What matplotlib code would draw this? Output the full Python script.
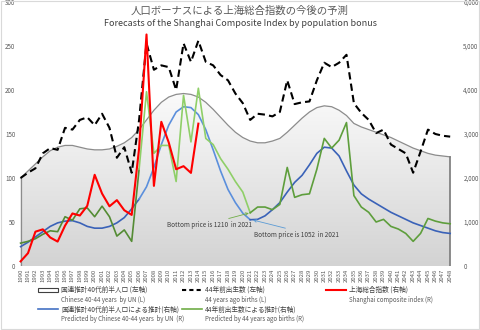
import numpy as np
import matplotlib
matplotlib.use("Agg")
from matplotlib import pyplot as plt
from matplotlib.colors import LinearSegmentedColormap
from matplotlib.patches import Patch, Rectangle
from matplotlib.lines import Line2D
from matplotlib.ticker import FuncFormatter

plt.rcParams['font.family'] = ['Noto Sans CJK JP', 'DejaVu Sans']

years = np.arange(1990, 2049)

# 国連推計40代前半人口 (左軸) index 1990=100
un_pop = [100, 108, 116, 124, 131, 135, 137, 137, 135, 133,
          132, 132, 133, 136, 140, 146, 155, 166, 177, 186,
          192, 195, 196, 195, 192, 186, 178, 169, 160, 152,
          146, 142, 140, 140, 142, 145, 152, 160, 168, 175,
          180, 182, 181, 177, 171, 162, 158, 155, 152, 149,
          146, 142, 138, 134, 131, 128, 126, 125, 124]

# 44年前出生数 (左軸)
births44 = [100, 106, 111, 128, 134, 132, 157, 155, 166, 169,
            160, 173, 157, 123, 135, 106, 166, 253, 223, 228,
            226, 200, 253, 232, 256, 232, 228, 217, 211, 196,
            185, 166, 173, 172, 170, 175, 211, 184, 186, 187,
            211, 231, 226, 231, 240, 185, 174, 166, 151, 155,
            138, 133, 128, 106, 130, 155, 150, 148, 147]

# 上海総合指数 (右軸), 1990-2014
sse_years = np.arange(1990, 2015)
sse = [105, 292, 780, 833, 648, 555, 917, 1194, 1147, 1367,
       2073, 1646, 1357, 1497, 1267, 1161, 2675, 5262, 1821, 3277,
       2808, 2199, 2269, 2116, 3235]

# 国連推計40代前半人口による推計 (右軸)
pred_un = np.array([22, 27, 33, 39, 45, 49, 51, 51.5, 49, 45,
                    43, 43, 45, 49, 55, 65, 76, 90, 112, 138,
                    160, 175, 181, 180, 172, 155, 132, 108, 87, 72,
                    60, 52.6, 53, 57, 64, 72, 84, 95, 103, 115,
                    128, 135, 134, 125, 108, 92, 82, 76, 71, 66,
                    61, 57, 53, 49, 46, 43, 40, 38, 37]) * 20

# 44年前出生数による推計 (右軸)
pred_births = np.array([26, 28, 31, 36, 40, 39, 56, 52, 65, 66,
                        56, 68, 56, 34, 41, 28, 110, 198, 128, 137,
                        137, 96, 194, 141, 202, 145, 138, 122, 110, 96,
                        84, 60.5, 67, 67, 64, 70, 112, 78, 81, 82,
                        110, 145, 134, 143, 163, 80, 67, 61, 50, 53,
                        45, 42, 37, 28, 37, 54, 51, 49, 48]) * 20

fig = plt.figure(figsize=(4.8, 3.3), dpi=100)
ax = fig.add_axes([18 / 480, 1 - 266 / 330, 437 / 480, 264 / 330])
ax2 = ax.twinx()

ax.set_xlim(1989.65, 2048.65)
ax.set_ylim(0, 300)
ax2.set_ylim(0, 6000)

# gradient filled area
poly = ax.fill_between(years, 0, un_pop, facecolor="none", edgecolor="none")
cmap = LinearSegmentedColormap.from_list("g", ["#d3d3d3", "#fbfbfb"])
grad = np.linspace(0, 1, 256).reshape(-1, 1)
im = ax.imshow(grad, cmap=cmap, aspect="auto", origin="lower",
               extent=[1989.65, 2048.65, 0, 200], zorder=1)
im.set_clip_path(poly.get_paths()[0], transform=ax.transData)
ax.plot(years, un_pop, color="#8c8c8c", lw=0.9, zorder=2)
ax.plot([years[0], years[0]], [0, un_pop[0]], color="#8c8c8c", lw=0.9, zorder=2)
ax.plot([years[-1], years[-1]], [0, un_pop[-1]], color="#7a7a7a", lw=1.2, zorder=2)

ax.plot(years, births44, color="black", lw=1.5, ls=(0, (3.5, 2)), zorder=3)

# right axis series
n1, n2 = 16, 31
ax2.plot(years[:n1 + 1], pred_un[:n1 + 1], color="#3a62b8", lw=1.2)
ax2.plot(years[n1:n2 + 1], pred_un[n1:n2 + 1], color="#5b8fdc", lw=1.2)
ax2.plot(years[n2:], pred_un[n2:], color="#3a62b8", lw=1.2)

ax2.plot(years[:n1 + 1], pred_births[:n1 + 1], color="#548c34", lw=1.2)
ax2.plot(years[n1:n2 + 1], pred_births[n1:n2 + 1], color="#8fcf68", lw=1.2)
ax2.plot(years[n2:], pred_births[n2:], color="#5e9e3c", lw=1.2)

ax2.plot(sse_years, sse, color="#ff0000", lw=1.5)

# annotations
ax2.annotate("Bottom price is 1210  in 2021", xy=(2021, 1210), xytext=(2009.8, 880),
             fontsize=4.6, color="#404040",
             arrowprops=dict(arrowstyle="->", color="#70ad47", lw=0.6,
                             shrinkA=0, shrinkB=1, relpos=(0.6, 1.0)))
ax2.annotate("Bottom price is 1052  in 2021", xy=(2021.2, 1052), xytext=(2021.5, 660),
             fontsize=4.6, color="#404040",
             arrowprops=dict(arrowstyle="->", color="#5b9bd5", lw=0.6,
                             shrinkA=0, shrinkB=1, relpos=(0.5, 1.0)))

# ticks and spines
for a in (ax, ax2):
    for s in a.spines.values():
        s.set_visible(False)
    a.tick_params(length=0, colors="#595959")
ax.set_yticks(np.arange(0, 301, 50))
ax.tick_params(axis="y", labelsize=4.5, pad=2)
ax2.set_yticks(np.arange(0, 6001, 1000))
ax2.yaxis.set_major_formatter(FuncFormatter(lambda v, p: f"{int(v):,}"))
ax2.tick_params(axis="y", labelsize=4.5, pad=6)
ax.set_xticks(years)
ax.set_xticklabels([str(y) for y in years], rotation=90, fontsize=4.3)
ax.tick_params(axis="x", pad=2)

# titles
fig.text(0.5, 1 - 11 / 330, "人口ボーナスによる上海総合指数の今後の予測",
         ha="center", va="center", fontsize=7.5, color="#595959")
fig.text(0.5, 1 - 23 / 330, "Forecasts of the Shanghai Composite Index by population bonus",
         ha="center", va="center", fontsize=6.5, color="#404040")

# legend: three columns, Japanese label with English line underneath
leg_cols = [
    (38, [Patch(facecolor="white", edgecolor="#404040", lw=0.8),
          Line2D([], [], color="#4472c4", lw=1.2)],
     ["国連推計40代前半人口 (左軸)", "国連推計40代前半人口による推計(右軸)"],
     ["Chinese 40-44 years  by UN (L)", "Predicted by Chinese 40-44 years  by UN  (R)"]),
    (182, [Line2D([], [], color="black", lw=1.5, ls=(0, (2, 1.5))),
           Line2D([], [], color="#70ad47", lw=1.2)],
     ["44年前出生数 (左軸)", "44年前出生数による推計(右軸)"],
     ["44 years ago births (L)", "Predicted by 44 years ago births (R)"]),
    (326, [Line2D([], [], color="#ff0000", lw=1.5)],
     ["上海総合指数 (右軸)"],
     ["Shanghai composite index (R)"]),
]
legs = []
for x0, hs, jp, en in leg_cols:
    leg = fig.legend(hs, jp, loc="upper left", bbox_to_anchor=(x0 / 480, 1 - 286 / 330),
                     borderaxespad=0, borderpad=0, frameon=False, fontsize=4.8,
                     handlelength=3.0, handleheight=0.6, labelspacing=1.75,
                     handletextpad=0.5)
    for t in leg.get_texts():
        t.set_color("#404040")
    legs.append((leg, en))

fig.canvas.draw()
inv = fig.transFigure.inverted()
for leg, en in legs:
    for t, s in zip(leg.get_texts(), en):
        bb = t.get_window_extent()
        x, y = inv.transform((bb.x0, bb.y0))
        fig.text(x, y - 1.5 / 330, s, ha="left", va="top", fontsize=4.4, color="#595959")

fig.patches.append(Rectangle((0.002, 0.003), 0.996, 0.994, transform=fig.transFigure,
                             fill=False, edgecolor="#d9d9d9", lw=0.8))

fig.savefig("out.png", dpi=100)
